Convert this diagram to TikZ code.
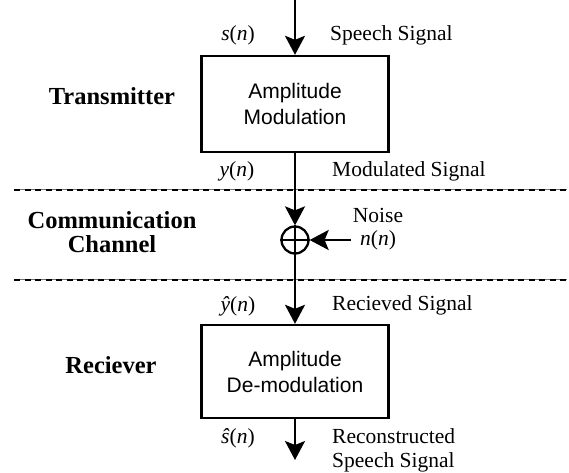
\documentclass[tikz,border=0pt]{standalone}
\usepackage{fontspec}
\setmainfont{Liberation Serif}
\setsansfont{Liberation Sans}
\usetikzlibrary{arrows.meta}
\begin{document}
\begin{tikzpicture}[x=1pt,y=-1pt,
  lbl/.style={font=\fontsize{21.5}{24}\selectfont, anchor=base, inner sep=0},
  lblw/.style={lbl, anchor=base west},
  sec/.style={font=\fontsize{24.5}{26}\selectfont\bfseries, anchor=base, inner sep=0},
  blk/.style={draw, line width=2.4pt, minimum width=187pt, inner sep=0, align=center,
    font=\fontsize{21}{26}\sffamily\selectfont},
  sig/.style={line width=2.3pt, -{Stealth[length=19pt,width=20pt,inset=4pt]}},
  septhin/.style={line width=0.6pt, black!55},
  sepdash/.style={line width=2pt, dash pattern=on 6pt off 4.5pt}]
\path[use as bounding box, fill=white] (0,0) rectangle (569,472);

% separators
\draw[septhin] (14,189.5) -- (567,189.5);
\draw[sepdash] (14,189.5) -- (567,189.5);
\draw[septhin] (14,279.5) -- (567,279.5);
\draw[sepdash] (14,279.5) -- (567,279.5);

% blocks
\node[blk, minimum height=96pt] (b1) at (295,104) {Amplitude\\Modulation};
\node[blk, minimum height=93pt] (b2) at (295,371.5) {Amplitude\\De-modulation};
\node[circle, draw, line width=2.3pt, minimum size=27pt, inner sep=0] (sum) at (295,240) {};
\draw[line width=2pt] (sum.north) -- (sum.south) (sum.west) -- (sum.east);

\coordinate (in) at (295,0);
\coordinate (out) at (295,460);
\coordinate (nz) at (351,240);

% connectors
\draw[sig] (in) -- (b1.north);
\draw[sig] (b1.south) -- (sum.north);
\draw[sig] (sum.south) -- (b2.north);
\draw[sig] (b2.south) -- (out);
\draw[sig] (nz) -- (sum.east);

% signal labels
\node[lbl] (s) at (238,40) {\textit{s}(\textit{n})};
\node[lblw] (sl) at (330,40) {Speech Signal};
\node[lbl] (y) at (237,176) {\textit{y}(\textit{n})};
\node[lblw] (yl) at (332,176) {Modulated Signal};
\node[lbl] (noise) at (378,222) {Noise};
\node[lbl] (nn) at (378,245) {\textit{n}(\textit{n})};
\node[lbl] (yh) at (238,311) {\textit{ŷ}(\textit{n})};
\node[lblw] (yhl) at (332,310) {Recieved Signal};
\node[lbl] (sh) at (238,443) {\textit{ŝ}(\textit{n})};
\node[lblw] (shl1) at (332,443) {Reconstructed};
\node[lblw] (shl2) at (332,467) {Speech Signal};

% section labels
\node[sec] (tx) at (112,104) {Transmitter};
\node[sec] (ch1) at (112,228) {Communication};
\node[sec] (ch2) at (112,252) {Channel};
\node[sec] (rx) at (111,373) {Reciever};
\end{tikzpicture}
\end{document}
